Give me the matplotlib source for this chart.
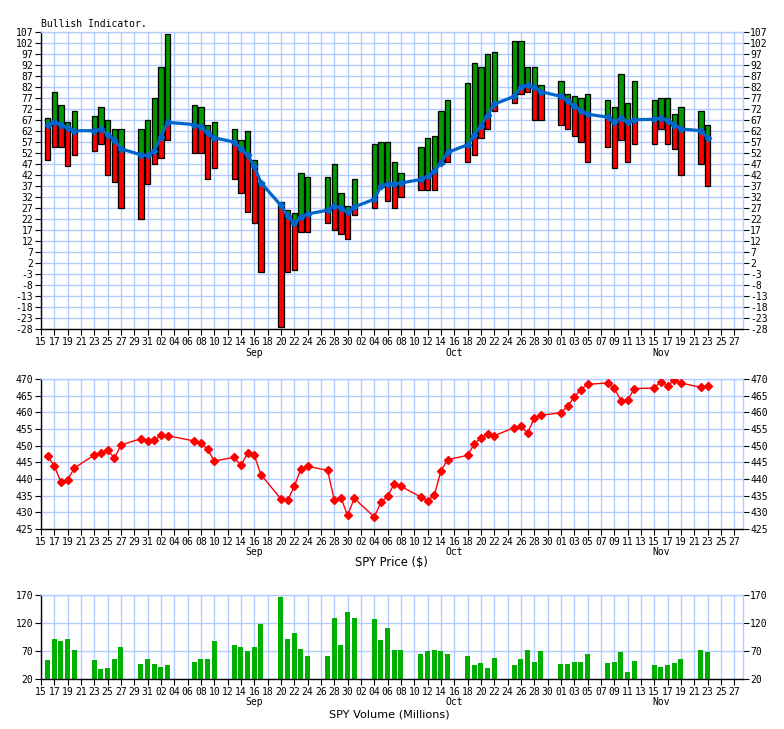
import matplotlib
matplotlib.use("Agg")
import matplotlib.pyplot as plt
import matplotlib.dates as mdates
import numpy as np
import pandas as pd

# ---------------- data ----------------
dates = [
    "2021-08-16", "2021-08-17", "2021-08-18", "2021-08-19", "2021-08-20",
    "2021-08-23", "2021-08-24", "2021-08-25", "2021-08-26", "2021-08-27",
    "2021-08-30", "2021-08-31", "2021-09-01", "2021-09-02", "2021-09-03",
    "2021-09-07", "2021-09-08", "2021-09-09", "2021-09-10",
    "2021-09-13", "2021-09-14", "2021-09-15", "2021-09-16", "2021-09-17",
    "2021-09-20", "2021-09-21", "2021-09-22", "2021-09-23", "2021-09-24",
    "2021-09-27", "2021-09-28", "2021-09-29", "2021-09-30", "2021-10-01",
    "2021-10-04", "2021-10-05", "2021-10-06", "2021-10-07", "2021-10-08",
    "2021-10-11", "2021-10-12", "2021-10-13", "2021-10-14", "2021-10-15",
    "2021-10-18", "2021-10-19", "2021-10-20", "2021-10-21", "2021-10-22",
    "2021-10-25", "2021-10-26", "2021-10-27", "2021-10-28", "2021-10-29",
    "2021-11-01", "2021-11-02", "2021-11-03", "2021-11-04", "2021-11-05",
    "2021-11-08", "2021-11-09", "2021-11-10", "2021-11-11", "2021-11-12",
    "2021-11-15", "2021-11-16", "2021-11-17", "2021-11-18", "2021-11-19",
    "2021-11-22", "2021-11-23",
]

bull_high = [68, 80, 74, 66, 71, 69, 73, 67, 63, 63, 63, 67, 77, 91, 106,
             74, 73, 65, 66, 63, 58, 62, 49, 38.8,
             29.7, 26, 24.7, 43, 41, 41, 47, 34, 28, 40,
             56, 57, 57, 48, 43, 55, 59, 60, 71, 76,
             84, 93, 91, 97, 98, 103, 103, 91, 91, 83,
             85, 79, 78, 77, 79, 76, 73, 88, 75, 85,
             76, 77, 77, 70, 73, 71, 65]

bull_low = [49, 55, 55, 46, 51, 53, 56, 42, 39, 27, 22, 38, 47, 50, 58,
            52, 52, 40, 45, 40, 34, 25, 20, -2,
            -27, -2, -1, 16, 16, 20, 17, 15, 13, 24,
            27, 36.5, 30, 27, 32, 35, 35, 35, 47, 48,
            48, 51, 59, 63, 71, 75, 79, 80, 67, 67,
            65, 63, 60, 57, 48, 55, 45, 58, 48, 56,
            56, 63, 56, 54, 42, 47, 37]

bull_ma = [65, 66, 65, 63.4, 62.2, 62.2, 63, 60.3, 58, 54, 51.2, 51, 53, 59.5, 66,
           65, 64, 61, 59, 57, 54, 51, 46, 38.5,
           28.2, 23.2, 20, 23, 24.3, 26, 28, 27, 25, 27.5,
           31, 37, 38, 38, 38.4, 40, 41.4, 43.7, 47.5, 52.3,
           55.8, 60.3, 64.4, 69.4, 74.3, 77.8, 82, 82.8, 82, 80,
           77.8, 75.8, 73.5, 71.2, 69.7, 68.4, 66, 67.9, 66, 67.2,
           67.4, 68, 66.8, 65, 63, 62.2, 59]

spy_price = [446.9, 443.9, 439.0, 439.8, 443.3, 447.2, 447.9, 448.8, 446.2, 450.2,
             452.1, 451.5, 451.7, 453.1, 453.0, 451.4, 450.8, 448.9, 445.4,
             446.5, 444.1, 447.8, 447.1, 441.3, 434.0, 433.6, 437.8, 443.1, 443.8,
             442.6, 433.7, 434.4, 429.1, 434.2, 428.6, 433.0, 434.8, 438.6, 437.8,
             434.6, 433.5, 435.1, 442.4, 445.8, 447.1, 450.5, 452.3, 453.5, 453.0,
             455.4, 455.8, 453.8, 458.2, 459.1, 459.9, 461.8, 464.6, 466.8, 468.4,
             468.8, 467.3, 463.5, 463.6, 467.1, 467.3, 469.2, 468.0, 469.6, 468.8,
             467.5, 468.0]

spy_volume = [54, 92, 88, 92, 72, 54, 38, 40, 56, 77,
              47, 56, 47, 42, 45, 51, 56, 56, 88,
              81, 77, 70, 77, 118, 166, 92, 102, 74, 61,
              61, 129, 81, 140, 129, 127, 90, 111, 72, 72,
              65, 70, 72, 70, 65, 61, 45, 49, 40, 58,
              45, 56, 72, 51, 70, 47, 47, 51, 51, 65,
              49, 51, 69, 33, 53, 45, 42, 45, 49, 56,
              72, 69]

bull_ticks = list(range(-28, 108, 5))
price_ticks = list(range(425, 471, 5))
volume_ticks = [20, 70, 120, 170]
month_labels = ["Sep", "Oct", "Nov"]
month_label_dates = ["2021-09-16", "2021-10-16", "2021-11-16"]

# ---------------- setup ----------------
W, H = 784, 729
fig = plt.figure(figsize=(W / 100, H / 100), dpi=100)
fig.patch.set_facecolor("white")

d = pd.to_datetime(dates)
x = mdates.date2num(d)
bh = np.array(bull_high, float)
bl = np.array(bull_low, float)
bm = np.array(bull_ma, float)

GRID = "#b3ccff"
MONO = "DejaVu Sans Mono"
xmin = mdates.date2num(pd.Timestamp("2021-08-15"))
xmax = mdates.date2num(pd.Timestamp("2021-11-28")) + 0.25
tick_dates = pd.date_range("2021-08-15", "2021-11-27", freq="2D")
xticks = mdates.date2num(tick_dates)
xticklabels = [t.strftime("%d") for t in tick_dates]

left_px, right_px = 41, 742.5


def make_axes(top_px, bot_px):
    ax = fig.add_axes([left_px / W, 1 - bot_px / H, (right_px - left_px) / W,
                       (bot_px - top_px) / H])
    ax.set_facecolor("white")
    ax.set_xlim(xmin, xmax)
    ax.set_xticks(xticks)
    ax.set_xticklabels(xticklabels, family=MONO, fontsize=7)
    ax.grid(True, color=GRID, linewidth=1.0, zorder=0)
    ax.set_axisbelow(True)
    for s in ("top", "right"):
        ax.spines[s].set_color(GRID)
        ax.spines[s].set_linewidth(1.0)
    for s in ("left", "bottom"):
        ax.spines[s].set_color("black")
        ax.spines[s].set_linewidth(1.0)
    ax.tick_params(axis="both", which="both", direction="out", length=4,
                   width=0.8, color="black", labelsize=7, pad=1.5)
    ax.tick_params(axis="y", right=True, labelright=True)
    return ax


def month_text(ax, offset_px):
    for lab, md in zip(month_labels, month_label_dates):
        ax.annotate(lab, xy=(mdates.date2num(pd.Timestamp(md)), 0),
                    xycoords=("data", "axes fraction"),
                    xytext=(0, -offset_px * 0.72), textcoords="offset points",
                    ha="center", va="center", fontsize=7, family=MONO)


# ---------------- Bullish indicator ----------------
ax1 = make_axes(32.3, 329.5)
ax1.set_ylim(-28.3, 107)
ax1.set_yticks(bull_ticks)
ax1.set_yticklabels([str(t) for t in bull_ticks], family=MONO, fontsize=7)
bw = 0.8
green_h = np.clip(bh - bm, 0, None)
red_top = np.minimum(bm, bh)
ax1.bar(x, green_h, bottom=bm, width=bw, color="#009900",
        edgecolor="black", linewidth=0.9, zorder=2)
ax1.bar(x, red_top - bl, bottom=bl, width=bw, color="#ff0000",
        edgecolor="black", linewidth=0.9, zorder=2)
ax1.plot(x, bm, color="#0066cc", linewidth=2.3, marker="D", markersize=3.3,
         zorder=3)
ax1.annotate("Bullish Indicator.", xy=(0, 1), xycoords="axes fraction",
             xytext=(0, 8.3 * 0.72), textcoords="offset points",
             ha="left", va="center", fontsize=7, family=MONO)
month_text(ax1, 23.5)

# ---------------- SPY price ----------------
ax2 = make_axes(379, 529)
ax2.set_ylim(425, 470)
ax2.set_yticks(price_ticks)
ax2.set_yticklabels([str(t) for t in price_ticks], family=MONO, fontsize=7)
ax2.plot(x, spy_price, color="red", linewidth=1.0, marker="D",
         markersize=4, zorder=3)
month_text(ax2, 23)
ax2.annotate("SPY Price ($)", xy=(0.5, 0), xycoords="axes fraction",
             xytext=(0, -33 * 0.72), textcoords="offset points",
             ha="center", va="center", fontsize=8.3, family="DejaVu Sans")

# ---------------- SPY volume ----------------
ax3 = make_axes(595, 679.3)
ax3.set_ylim(20, 170)
ax3.set_yticks(volume_ticks)
ax3.set_yticklabels([str(t) for t in volume_ticks], family=MONO, fontsize=7)
ax3.bar(x, np.array(spy_volume) - 20, bottom=20, width=0.75, color="#00b000",
        linewidth=0, zorder=2)
month_text(ax3, 22.5)
ax3.annotate("SPY Volume (Millions)", xy=(0.5, 0), xycoords="axes fraction",
             xytext=(-2, -35 * 0.72), textcoords="offset points",
             ha="center", va="center", fontsize=8.1, family="DejaVu Sans")

fig.savefig("out.png", dpi=100, facecolor="white")
